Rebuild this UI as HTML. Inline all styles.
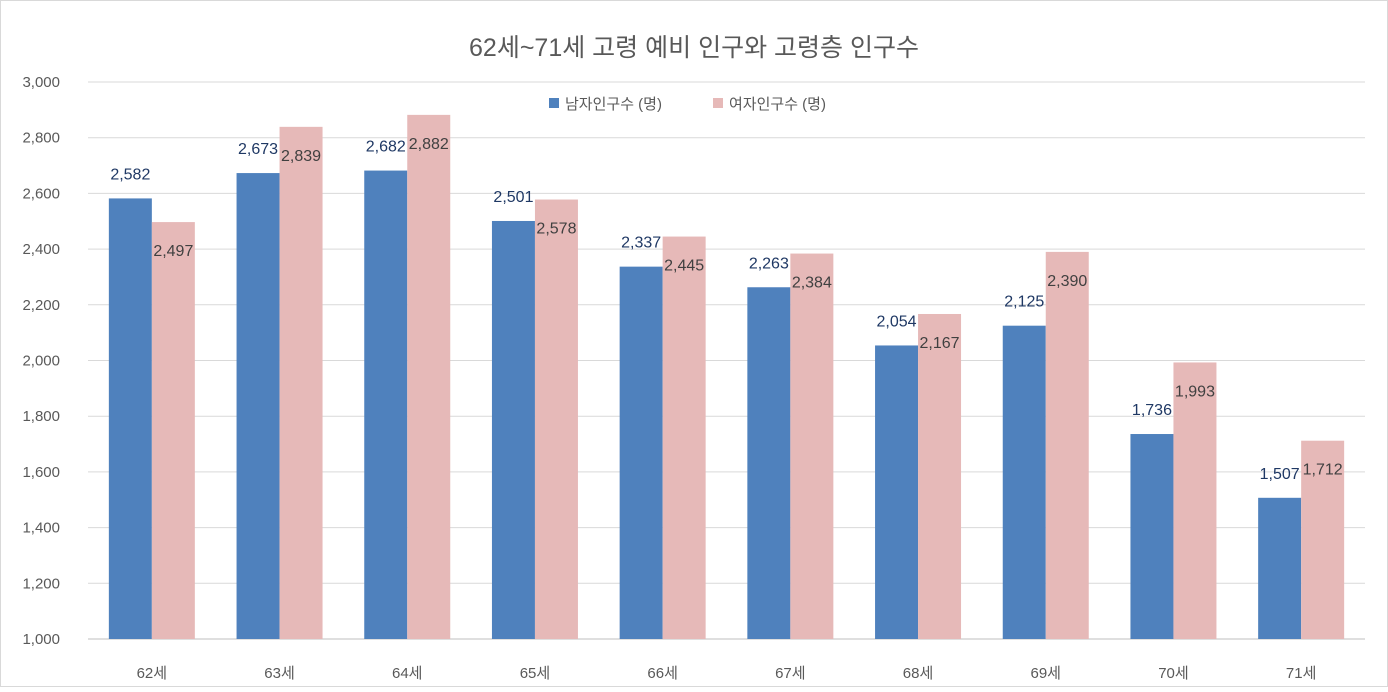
<!DOCTYPE html>
<html><head><meta charset="utf-8"><style>
body{margin:0;background:#fff;}
svg text{font-family:"Liberation Sans","Noto Sans CJK KR",sans-serif;}
</style></head><body>
<svg id="chart" width="1388" height="687" xmlns="http://www.w3.org/2000/svg">
<rect x="0.5" y="0.5" width="1387" height="686" fill="#fff" stroke="#d9d9d9"/>
<text x="694" y="56" text-anchor="middle" font-size="25" fill="#595959">62세~71세 고령 예비 인구와 고령층 인구수</text>
<g id="grid"></g><g id="bars"></g><g id="labels"></g>
<g>
<rect x="549" y="98" width="10" height="10" fill="#4f81bd"/>
<text x="565" y="109" font-size="15" fill="#595959">남자인구수 (명)</text>
<rect x="713" y="98" width="10" height="10" fill="#e6b9b8"/>
<text x="729" y="109" font-size="15" fill="#595959">여자인구수 (명)</text>
</g>
</svg>
<script>
const categories=["62세","63세","64세","65세","66세","67세","68세","69세","70세","71세"];
const maleValues=[2582,2673,2682,2501,2337,2263,2054,2125,1736,1507];
const femaleValues=[2497,2839,2882,2578,2445,2384,2167,2390,1993,1712];
const yTicks=[1000,1200,1400,1600,1800,2000,2200,2400,2600,2800,3000];
const NS="http://www.w3.org/2000/svg";
const x0=88,x1=1365,yTop=82,yBot=639,yMin=1000,yMax=3000;
const band=(x1-x0)/categories.length,bw=43;
const y=v=>yBot-(v-yMin)/(yMax-yMin)*(yBot-yTop);
const fmt=v=>v.toLocaleString('en-US');
function mk(tag,attrs,parent,text){const e=document.createElementNS(NS,tag);for(const k in attrs)e.setAttribute(k,attrs[k]);if(text!==undefined)e.textContent=text;parent.appendChild(e);return e;}
const grid=document.getElementById('grid'),bars=document.getElementById('bars'),labels=document.getElementById('labels');
yTicks.forEach(t=>{
 const l=mk('line',{x1:x0,x2:x1,y1:y(t),y2:y(t),stroke:t===yMin?'#bfbfbf':'#d9d9d9','stroke-width':1},grid);
 
 
 const tx=mk('text',{x:60,y:y(t)+5,'text-anchor':'end','font-size':15,fill:'#595959'},grid,fmt(t));
 
 
});
categories.forEach((c,i)=>{
 const cx=x0+band*(i+0.5);
 const mv=maleValues[i],fv=femaleValues[i];
 const mb=mk('rect',{x:cx-bw,y:y(mv),width:bw,height:yBot-y(mv),fill:'#4f81bd'},bars);
 
 
 const fb=mk('rect',{x:cx,y:y(fv),width:bw,height:yBot-y(fv),fill:'#e6b9b8'},bars);
 
 
 const ml=mk('text',{x:cx-bw/2,y:y(mv)-19,'text-anchor':'middle','font-size':16,fill:'#1f3864'},labels,fmt(mv));
 
 
 const fl=mk('text',{x:cx+bw/2,y:y(fv)+34,'text-anchor':'middle','font-size':16,fill:'#404040'},labels,fmt(fv));
 
 
 const xl=mk('text',{x:cx,y:678,'text-anchor':'middle','font-size':15,fill:'#595959'},labels,c);
 
 
});
</script>
</body></html>
